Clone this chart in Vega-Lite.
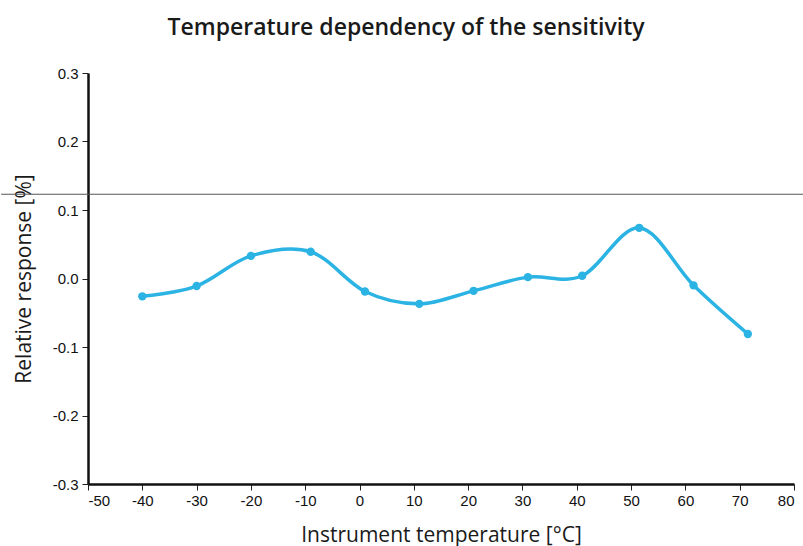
{
  "$schema": "https://vega.github.io/schema/vega-lite/v6.json",
  "autosize": {"type": "none"},
  "width": 706,
  "height": 411,
  "padding": {"left": 88, "top": 73, "right": 9, "bottom": 62},
  "background": "white",
  "title": {
    "text": "Temperature dependency of the sensitivity",
    "font": "Open Sans",
    "fontSize": 23,
    "fontWeight": 600,
    "color": "#1a1a1a",
    "anchor": "middle",
    "dx": -35,
    "offset": 26
  },
  "datasets": {
    "sens": [
      {"temp": -40, "resp": -0.026},
      {"temp": -30, "resp": -0.011},
      {"temp": -20, "resp": 0.033},
      {"temp": -9, "resp": 0.039},
      {"temp": 1, "resp": -0.019},
      {"temp": 11, "resp": -0.037},
      {"temp": 21, "resp": -0.018},
      {"temp": 31, "resp": 0.002},
      {"temp": 41, "resp": 0.004},
      {"temp": 51.5, "resp": 0.074},
      {"temp": 61.5, "resp": -0.010},
      {"temp": 71.5, "resp": -0.081}
    ],
    "ref": [{"y": 0.123, "x": -66, "x2": 82}]
  },
  "config": {
    "view": {"stroke": null},
    "axis": {
      "grid": false,
      "domainColor": "#111",
      "domainWidth": 2.5,
      "tickColor": "#222",
      "tickSize": 6,
      "labelFont": "Liberation Sans",
      "labelFontSize": 15,
      "labelColor": "#111",
      "titleFont": "Open Sans",
      "titleFontSize": 21,
      "titleFontWeight": "normal",
      "titleColor": "#1a1a1a"
    }
  },
  "layer": [
    {
      "data": {"name": "sens"},
      "mark": {"type": "line", "interpolate": "cardinal", "color": "#2bb3e4", "strokeWidth": 3.5},
      "encoding": {
        "x": {
          "field": "temp", "type": "quantitative",
          "scale": {"domain": [-50, 80], "nice": false},
          "axis": {"values": [-50, -40, -30, -20, -10, 0, 10, 20, 30, 40, 50, 60, 70, 80], "labelExpr": "datum.value < 0 ? '-' + format(-datum.value, 'd') : format(datum.value, 'd')", "labelFont": "Liberation Sans", "labelFontSize": 15, "title": "Instrument temperature [°C]", "titlePadding": 16, "labelPadding": 3}
        },
        "y": {
          "field": "resp", "type": "quantitative",
          "scale": {"domain": [-0.3, 0.3], "nice": false},
          "axis": {"values": [-0.3, -0.2, -0.1, 0, 0.1, 0.2, 0.3], "labelExpr": "datum.value < 0 ? '-' + format(-datum.value, '.1f') : format(datum.value, '.1f')", "labelFont": "Liberation Sans", "labelFontSize": 15, "title": "Relative response [%]", "titlePadding": 18, "labelPadding": 4}
        }
      }
    },
    {
      "data": {"name": "ref"},
      "mark": {"type": "rule", "clip": false, "color": "#555", "strokeWidth": 1},
      "encoding": {
        "y": {"field": "y", "type": "quantitative"},
        "x": {"field": "x", "type": "quantitative"},
        "x2": {"field": "x2"}
      }
    },
    {
      "data": {"name": "sens"},
      "mark": {"type": "point", "filled": true, "color": "#2bb3e4", "size": 70, "opacity": 1},
      "encoding": {
        "x": {"field": "temp", "type": "quantitative"},
        "y": {"field": "resp", "type": "quantitative"}
      }
    }
  ]
}
